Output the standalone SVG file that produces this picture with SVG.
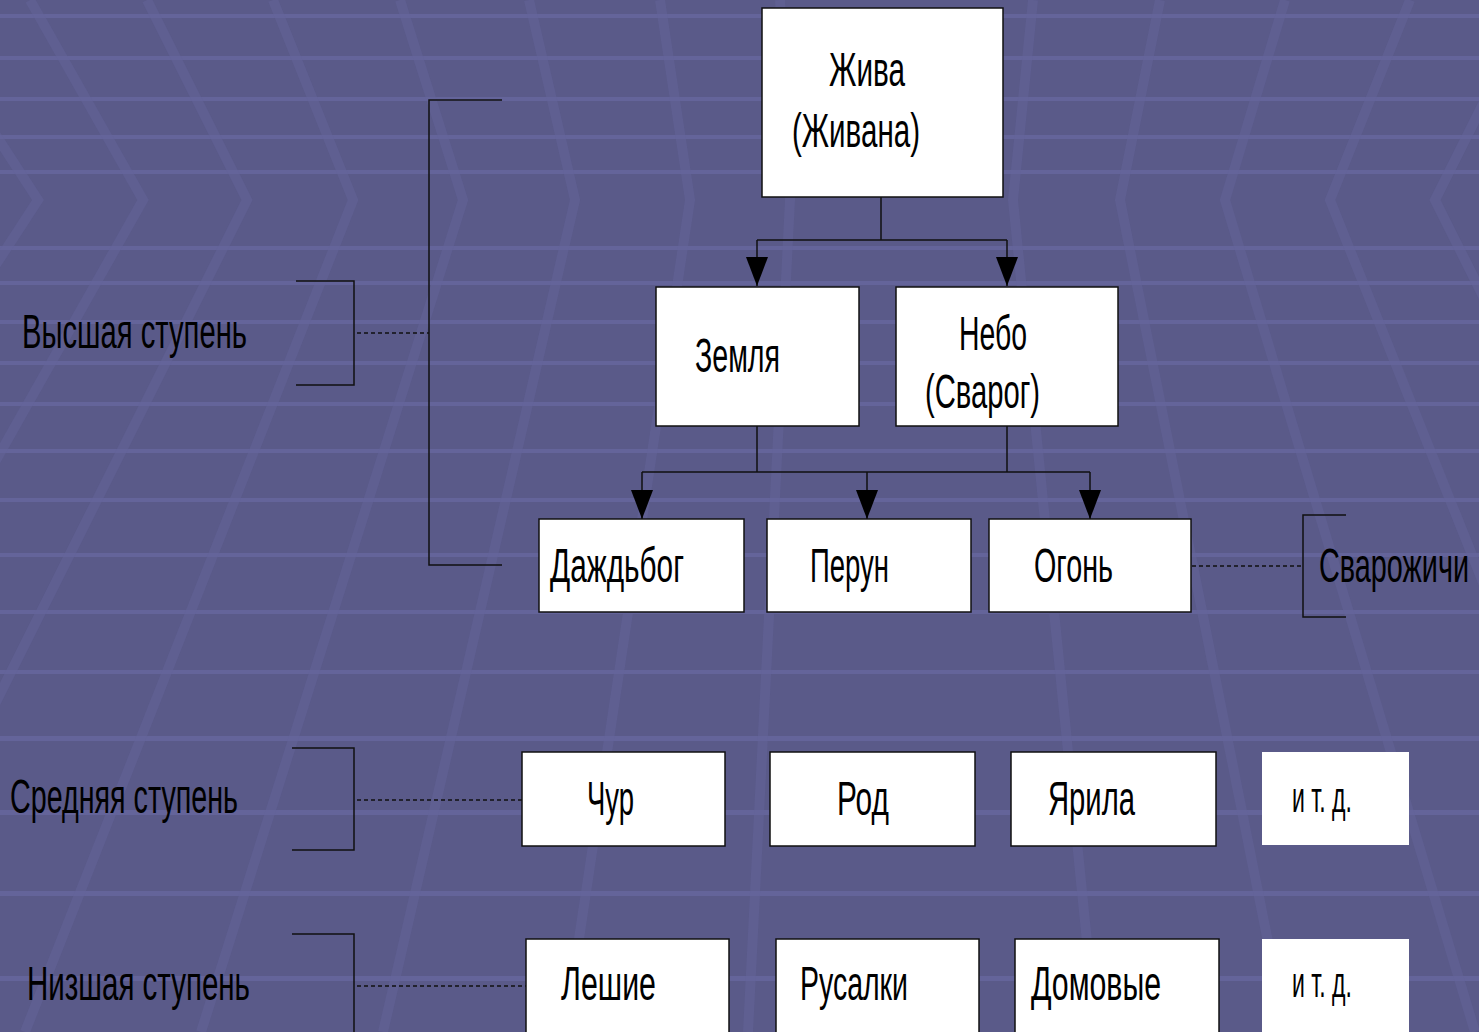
<svg xmlns="http://www.w3.org/2000/svg" width="1479" height="1032" viewBox="0 0 1479 1032">
<defs>
<style>
.bg{fill:#5a5a89}
.st{fill:#64649a}
.ch{fill:none;stroke:#64649a;stroke-width:10;opacity:0.5}
.box{fill:#fff;stroke:#111;stroke-width:1.5}
.box2{fill:#fff;stroke:none}
.t{font-family:"Liberation Sans",Arial,sans-serif;font-size:49px;fill:#000}
.s{font-family:"Liberation Sans",Arial,sans-serif;font-size:42px;fill:#000}
.ln{fill:none;stroke:#111;stroke-width:1.5}
.dash{fill:none;stroke:#111;stroke-width:1.5;stroke-dasharray:4 3}
</style>
<marker id="arr" viewBox="0 0 29 22" refX="29" refY="11" markerWidth="29" markerHeight="22" markerUnits="userSpaceOnUse" orient="auto">
<path d="M0,0 L29,11 L0,22 z" fill="#000"/>
</marker>
</defs>

<g id="background">
<rect class="bg" x="0" y="0" width="1479" height="1032"/>
<g>
<rect class="st" x="0" y="14" width="1479" height="4"/>
<rect class="st" x="0" y="56" width="1479" height="4"/>
<rect class="st" x="0" y="97" width="1479" height="4"/>
<rect class="st" x="0" y="135" width="1479" height="4"/>
<rect class="st" x="0" y="170" width="1479" height="4"/>
<rect class="st" x="0" y="246" width="1479" height="4"/>
<rect class="st" x="0" y="281" width="1479" height="4"/>
<rect class="st" x="0" y="320" width="1479" height="4"/>
<rect class="st" x="0" y="361" width="1479" height="4"/>
<rect class="st" x="0" y="402" width="1479" height="4"/>
<rect class="st" x="0" y="449" width="1479" height="4"/>
<rect class="st" x="0" y="498" width="1479" height="4"/>
<rect class="st" x="0" y="553" width="1479" height="4"/>
<rect class="st" x="0" y="610" width="1479" height="4"/>
<rect class="st" x="0" y="670" width="1479" height="4"/>
<rect class="st" x="0" y="736" width="1479" height="5"/>
<rect class="st" x="0" y="810" width="1479" height="5"/>
<rect class="st" x="0" y="891" width="1479" height="5"/>
<rect class="st" x="0" y="976" width="1479" height="5"/>
</g>
<g>
<polyline class="ch" points="-92,0 38,200 -200,566"/>
<polyline class="ch" points="30,0 143,200 -330,1037"/>
<polyline class="ch" points="147,0 247,200 -169,1032"/>
<polyline class="ch" points="273,0 353,200 25,1032"/>
<polyline class="ch" points="400,0 463,200 201,1032"/>
<polyline class="ch" points="529,0 575,200 383,1032"/>
<polyline class="ch" points="660,0 690,200 565,1032"/>
<polyline class="ch" points="780,0 790,200 748,1032"/>
<polyline class="ch" points="1033,0 1013,200 1096,1032"/>
<polyline class="ch" points="1160,0 1120,200 1286,1032"/>
<polyline class="ch" points="1285,0 1225,200 1475,1032"/>
<polyline class="ch" points="1410,0 1330,200 1663,1032"/>
<polyline class="ch" points="1535,0 1435,200 1851,1032"/>
</g>
</g>

<g id="connectors">
<path class="ln" d="M881,197 V240 M757,240 H1007"/>
<path class="ln" d="M757,240 V286" marker-end="url(#arr)"/>
<path class="ln" d="M1007,240 V286" marker-end="url(#arr)"/>
<path class="ln" d="M757,426 V472 M1007,426 V472 M642,472 H1090"/>
<path class="ln" d="M642,472 V519" marker-end="url(#arr)"/>
<path class="ln" d="M867,472 V519" marker-end="url(#arr)"/>
<path class="ln" d="M1090,472 V519" marker-end="url(#arr)"/>
<polyline class="ln" points="296,281 354,281 354,385 296,385"/>
<path class="dash" d="M357,333 H429"/>
<polyline class="ln" points="502,100 429,100 429,565 502,565"/>
<polyline class="ln" points="1346,515 1303,515 1303,617 1346,617"/>
<path class="dash" d="M1192,566 H1303"/>
<polyline class="ln" points="292,748 354,748 354,850 292,850"/>
<path class="dash" d="M357,800 H522"/>
<polyline class="ln" points="292,934 354,934 354,1032"/>
<path class="dash" d="M357,986 H526"/>
</g>

<g id="label-vysshaya"><text class="t" x="22" y="348" textLength="225" lengthAdjust="spacingAndGlyphs">Высшая ступень</text></g>
<g id="label-srednyaya"><text class="t" x="10" y="813" textLength="228" lengthAdjust="spacingAndGlyphs">Средняя ступень</text></g>
<g id="label-nizshaya"><text class="t" x="27" y="1000" textLength="223" lengthAdjust="spacingAndGlyphs">Низшая ступень</text></g>
<g id="label-svarozhichi"><text class="t" transform="translate(1319,582) scale(0.6,1)" x="0" y="0" textLength="250" lengthAdjust="spacingAndGlyphs">Сварожичи</text></g>

<g id="node-zhiva">
<rect class="box" x="762" y="8" width="241" height="189"/>
<text class="t" x="829" y="86" textLength="76" lengthAdjust="spacingAndGlyphs">Жива</text>
<text class="t" x="792" y="147" textLength="128" lengthAdjust="spacingAndGlyphs">(Живана)</text>
</g>
<g id="node-zemlya">
<rect class="box" x="656" y="287" width="203" height="139"/>
<text class="t" x="695" y="372" textLength="85" lengthAdjust="spacingAndGlyphs">Земля</text>
</g>
<g id="node-nebo">
<rect class="box" x="896" y="287" width="222" height="139"/>
<text class="t" x="959" y="350" textLength="68" lengthAdjust="spacingAndGlyphs">Небо</text>
<text class="t" x="925" y="408" textLength="115" lengthAdjust="spacingAndGlyphs">(Сварог)</text>
</g>
<g id="node-dazhdbog">
<rect class="box" x="539" y="519" width="205" height="93"/>
<text class="t" x="550" y="582" textLength="134" lengthAdjust="spacingAndGlyphs">Даждьбог</text>
</g>
<g id="node-perun">
<rect class="box" x="767" y="519" width="204" height="93"/>
<text class="t" x="810" y="582" textLength="79" lengthAdjust="spacingAndGlyphs">Перун</text>
</g>
<g id="node-ogon">
<rect class="box" x="989" y="519" width="202" height="93"/>
<text class="t" x="1034" y="582" textLength="79" lengthAdjust="spacingAndGlyphs">Огонь</text>
</g>
<g id="node-chur">
<rect class="box" x="522" y="752" width="203" height="94"/>
<text class="t" x="587" y="815" textLength="47" lengthAdjust="spacingAndGlyphs">Чур</text>
</g>
<g id="node-rod">
<rect class="box" x="770" y="752" width="205" height="94"/>
<text class="t" x="837" y="815" textLength="52" lengthAdjust="spacingAndGlyphs">Род</text>
</g>
<g id="node-yarila">
<rect class="box" x="1011" y="752" width="205" height="94"/>
<text class="t" x="1048" y="815" textLength="87" lengthAdjust="spacingAndGlyphs">Ярила</text>
</g>
<g id="node-itd-1">
<rect class="box2" x="1262" y="752" width="147" height="93"/>
<text class="s" x="1292" y="812" textLength="60" lengthAdjust="spacingAndGlyphs">и т. д.</text>
</g>
<g id="node-leshie">
<rect class="box" x="526" y="939" width="203" height="100"/>
<text class="t" x="561" y="1000" textLength="95" lengthAdjust="spacingAndGlyphs">Лешие</text>
</g>
<g id="node-rusalki">
<rect class="box" x="776" y="939" width="203" height="100"/>
<text class="t" x="800" y="1000" textLength="108" lengthAdjust="spacingAndGlyphs">Русалки</text>
</g>
<g id="node-domovye">
<rect class="box" x="1015" y="939" width="204" height="100"/>
<text class="t" x="1031" y="1000" textLength="130" lengthAdjust="spacingAndGlyphs">Домовые</text>
</g>
<g id="node-itd-2">
<rect class="box2" x="1262" y="939" width="147" height="100"/>
<text class="s" x="1292" y="997" textLength="60" lengthAdjust="spacingAndGlyphs">и т. д.</text>
</g>
</svg>
